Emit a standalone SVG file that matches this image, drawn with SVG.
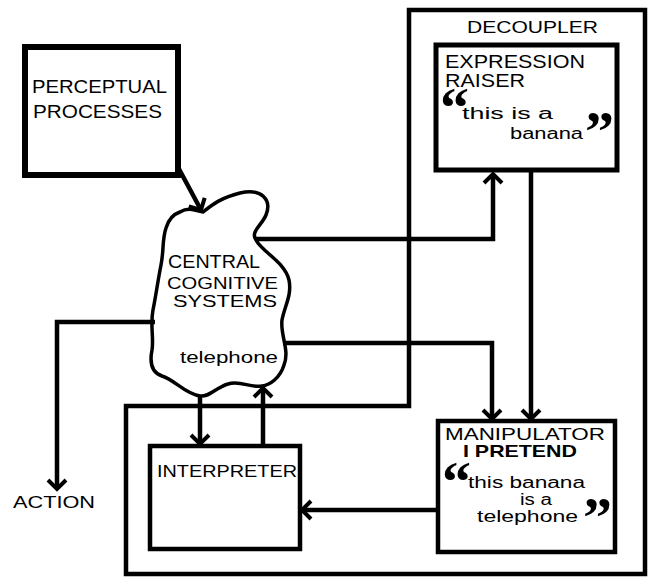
<svg xmlns="http://www.w3.org/2000/svg" width="654" height="579" viewBox="0 0 654 579">
<style>
.box{fill:#fff;stroke:#000;stroke-linejoin:miter}
.t{font-family:"Liberation Sans",Arial,sans-serif;fill:#000}
.q{font-family:"Liberation Serif","Times New Roman",serif;font-weight:bold;font-size:58px;fill:#000}
.c{fill:none;stroke:#000;stroke-width:4.5;stroke-linejoin:miter}
</style>
<defs>
<marker id="ah" markerUnits="userSpaceOnUse" viewBox="-12 -12 16 24" markerWidth="16" markerHeight="24" refX="0" refY="0" orient="auto" overflow="visible">
<path d="M-9,-9 L0,0 L-9,9" fill="none" stroke="#000" stroke-width="4"/>
</marker>
</defs>
<rect width="654" height="579" fill="#fff"/>
<g id="decoupler">
<path class="box" d="M409,10 H645 V574 H126 V406 H409 Z" fill="none" stroke-width="4.5"/>
<text class="t" x="467" y="33" font-size="16" textLength="131" lengthAdjust="spacingAndGlyphs">DECOUPLER</text>
</g>
<g id="perceptual">
<rect class="box" x="25" y="47" width="153" height="128" stroke-width="6"/>
<text class="t" x="32" y="93" font-size="18" textLength="135" lengthAdjust="spacingAndGlyphs">PERCEPTUAL</text>
<text class="t" x="33" y="118" font-size="18" textLength="129" lengthAdjust="spacingAndGlyphs">PROCESSES</text>
</g>
<g id="cloud">
<path class="box" stroke-width="3.5" d="M180,212 C190,206 198,212 203,212 C212,205 220,198 240,193 C262,188 272,200 266,215 C262,225 250,232 256,240 C262,252 285,262 289,280 C292,295 285,305 282,320 C280,335 290,350 284,365 C280,378 270,385 262,386 C250,388 240,380 228,384 C215,388 210,397 200,396 C185,394 175,380 162,376 C150,372 150,360 152,350 C154,338 150,325 153,310 C156,295 158,280 161,265 C164,250 162,240 166,228 C169,218 174,214 180,212 Z"/>
<text class="t" x="168" y="268" font-size="18" textLength="92" lengthAdjust="spacingAndGlyphs">CENTRAL</text>
<text class="t" x="167" y="289" font-size="17" textLength="111" lengthAdjust="spacingAndGlyphs">COGNITIVE</text>
<text class="t" x="173" y="307" font-size="16" textLength="104" lengthAdjust="spacingAndGlyphs">SYSTEMS</text>
<text class="t" x="180" y="363" font-size="16" textLength="98" lengthAdjust="spacingAndGlyphs">telephone</text>
</g>
<g id="expression-raiser">
<rect class="box" x="436" y="45" width="181" height="125" stroke-width="5"/>
<text class="t" font-size="18"><tspan x="445" y="68" textLength="140" lengthAdjust="spacingAndGlyphs">EXPRESSION</tspan><tspan x="445" y="87" textLength="80" lengthAdjust="spacingAndGlyphs">RAISER</tspan><tspan class="q" x="440" y="127">“</tspan><tspan x="462" y="119" font-size="16" textLength="91" lengthAdjust="spacingAndGlyphs">this  is  a</tspan><tspan x="510" y="139" font-size="16" textLength="73" lengthAdjust="spacingAndGlyphs">banana</tspan><tspan class="q" x="585" y="151">”</tspan></text>
</g>
<g id="manipulator">
<rect class="box" x="438" y="421" width="177" height="131" stroke-width="4.5"/>
<text class="t" font-size="16"><tspan x="445" y="440" font-size="17" textLength="160" lengthAdjust="spacingAndGlyphs">MANIPULATOR</tspan><tspan x="463" y="457" font-size="17" font-weight="bold" textLength="114" lengthAdjust="spacingAndGlyphs">I PRETEND</tspan><tspan class="q" x="442" y="501">“</tspan><tspan x="468" y="488" textLength="117" lengthAdjust="spacingAndGlyphs">this banana</tspan><tspan x="520" y="505" textLength="32" lengthAdjust="spacingAndGlyphs">is a</tspan><tspan x="477" y="522" textLength="101" lengthAdjust="spacingAndGlyphs">telephone</tspan><tspan class="q" x="583" y="537">”</tspan></text>
</g>
<g id="interpreter">
<rect class="box" x="150" y="446" width="150" height="103" stroke-width="4.5"/>
<text class="t" x="157" y="477" font-size="16" textLength="140" lengthAdjust="spacingAndGlyphs">INTERPRETER</text>
</g>
<g id="action">
<text class="t" x="13" y="508" font-size="16" textLength="82" lengthAdjust="spacingAndGlyphs">ACTION</text>
</g>
<g id="connectors">
<path class="c" d="M179,169 L201,210" marker-end="url(#ah)"/>
<path class="c" d="M256,239 H493 V174" marker-end="url(#ah)"/>
<path class="c" d="M531,170 V419" marker-end="url(#ah)"/>
<path class="c" d="M283,343 H492 V419" marker-end="url(#ah)"/>
<path class="c" d="M438,510 H302" marker-end="url(#ah)"/>
<path class="c" d="M200,396 V444" marker-end="url(#ah)"/>
<path class="c" d="M263,446 V388" marker-end="url(#ah)"/>
<path class="c" d="M155,322 H57 V489" marker-end="url(#ah)"/>
</g>
</svg>
